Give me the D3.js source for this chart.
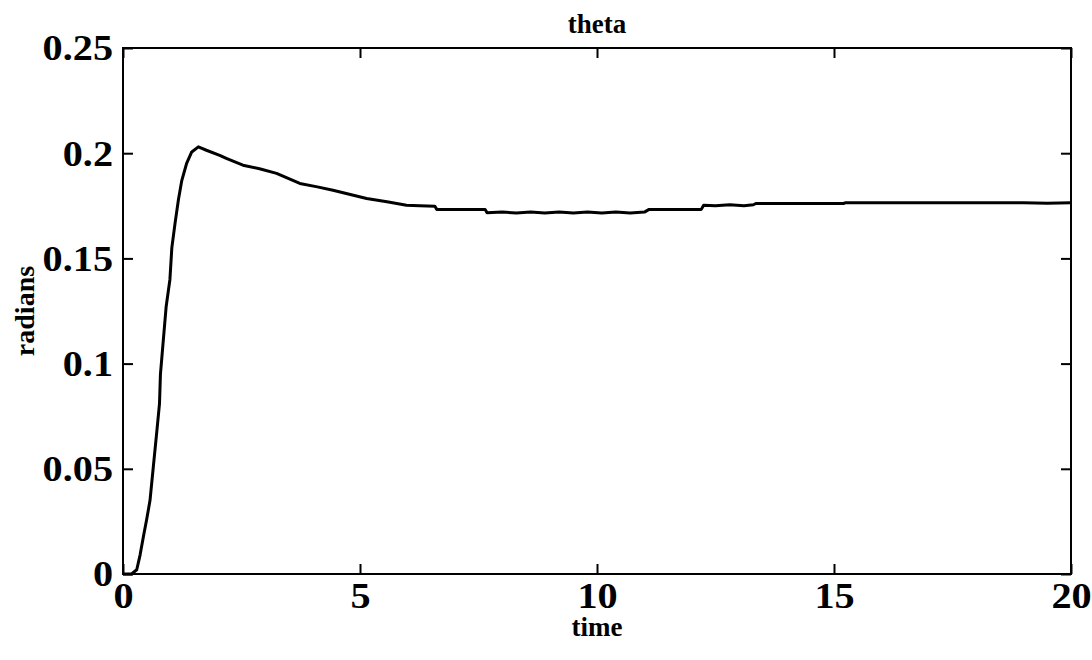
<!DOCTYPE html>
<html>
<head>
<meta charset="utf-8">
<script src="https://cdn.jsdelivr.net/npm/d3@7/dist/d3.min.js"></script>
<style>
  html, body { margin: 0; padding: 0; background: #fff; }
  text { font-family: "Liberation Serif", "DejaVu Serif", serif; font-weight: bold; fill: #000; }
</style>
</head>
<body>
<svg id="chart" width="1092" height="660"></svg>
<script>
// ---- data ----
const title = "theta";
const xLabel = "time";
const yLabel = "radians";
const xTicks = [0, 5, 10, 15, 20];
const yTicks = [0, 0.05, 0.1, 0.15, 0.2, 0.25];
const yTickLabels = ["0", "0.05", "0.1", "0.15", "0.2", "0.25"];

const timeValues = [
  0, 0.18, 0.29, 0.36, 0.43, 0.5, 0.57, 0.64, 0.71, 0.77, 0.79, 0.85, 0.91, 0.99,
  1.03, 1.10, 1.17, 1.24, 1.34, 1.45, 1.59, 1.76, 2.04, 2.18, 2.53, 2.9, 3.24,
  3.73, 4.1, 4.43, 5.14, 5.6, 5.98, 6.26, 6.58, 6.62, 7.64, 7.68,
  8.0, 8.3, 8.6, 8.9, 9.2, 9.5, 9.8, 10.1, 10.4, 10.7, 11.0,
  11.1, 12.2, 12.25, 12.5, 12.8, 13.1, 13.3, 13.35, 15.2, 15.25,
  16.0, 17.0, 18.0, 19.0, 19.5, 20.0
];
const thetaValues = [
  0, 0, 0.002, 0.009, 0.0177, 0.026, 0.035, 0.051, 0.067, 0.081, 0.095, 0.111, 0.127, 0.140,
  0.155, 0.167, 0.178, 0.187, 0.195, 0.2006, 0.203, 0.2014, 0.199, 0.1975, 0.1943, 0.1925, 0.1904,
  0.1856, 0.184, 0.1824, 0.1785, 0.1768, 0.1753, 0.1750, 0.1748, 0.1733, 0.1733, 0.1717,
  0.1720, 0.1716, 0.1720, 0.1716, 0.1720, 0.1716, 0.1720, 0.1716, 0.1720, 0.1716, 0.1720,
  0.1733, 0.1733, 0.1753, 0.1750, 0.1755, 0.1750, 0.1755, 0.1761, 0.1761, 0.1765,
  0.1764, 0.1765, 0.1764, 0.1765, 0.1762, 0.1765
];

// ---- layout ----
const svg = d3.select("#chart");
const L = 123, R = 1071, T = 48, B = 574;

const x = d3.scaleLinear().domain([0, 20]).range([L, R]);
const y = d3.scaleLinear().domain([0, 0.25]).range([B, T]);

const tickLen = 10;
const sx = 1.15;

// frame
svg.append("rect")
  .attr("x", L).attr("y", T).attr("width", R - L).attr("height", B - T)
  .attr("fill", "none").attr("stroke", "#000").attr("stroke-width", 2);

// axes (inward ticks)
const fmtY = d => yTickLabels[yTicks.indexOf(d)];
const gx = svg.append("g").attr("transform", `translate(0,${B})`)
  .call(d3.axisBottom(x).tickValues(xTicks).tickSize(-tickLen).tickFormat(d3.format("d")));
const gxt = svg.append("g").attr("transform", `translate(0,${T})`)
  .call(d3.axisTop(x).tickValues(xTicks).tickSize(-tickLen).tickFormat(""));
const gy = svg.append("g").attr("transform", `translate(${L},0)`)
  .call(d3.axisLeft(y).tickValues(yTicks).tickSize(-tickLen).tickFormat(fmtY));
const gyr = svg.append("g").attr("transform", `translate(${R},0)`)
  .call(d3.axisRight(y).tickValues(yTicks).tickSize(-tickLen).tickFormat(""));

[gx, gxt, gy, gyr].forEach(g => {
  g.select(".domain").remove();
  g.selectAll(".tick line").attr("stroke", "#000").attr("stroke-width", 2);
  g.selectAll("text").attr("font-size", 35).attr("font-family", "Liberation Serif")
    .attr("font-weight", "bold").attr("fill", "#000");
});
gx.selectAll(".tick text").attr("dy", 0).attr("y", 34).attr("x", 0)
  .attr("transform", `scale(${sx},1)`);
gy.selectAll(".tick text").attr("x", -10 / sx).attr("dy", "0.34em")
  .attr("transform", `scale(${sx},1)`);

// line
const pts = timeValues.map((t, i) => [t, thetaValues[i]]);
svg.append("path")
  .datum(pts)
  .attr("fill", "none")
  .attr("stroke", "#000")
  .attr("stroke-width", 3)
  .attr("stroke-linejoin", "round")
  .attr("d", d3.line().x(d => x(d[0])).y(d => y(d[1])));

// labels
svg.append("text").attr("x", (L + R) / 2).attr("y", 33)
  .attr("text-anchor", "middle").attr("font-size", 27).text(title);
svg.append("text").attr("x", (L + R) / 2).attr("y", 636)
  .attr("text-anchor", "middle").attr("font-size", 27).text(xLabel);
svg.append("text")
  .attr("transform", `translate(34,${(T + B) / 2}) rotate(-90)`)
  .attr("text-anchor", "middle").attr("font-size", 28).text(yLabel);
</script>
</body>
</html>
